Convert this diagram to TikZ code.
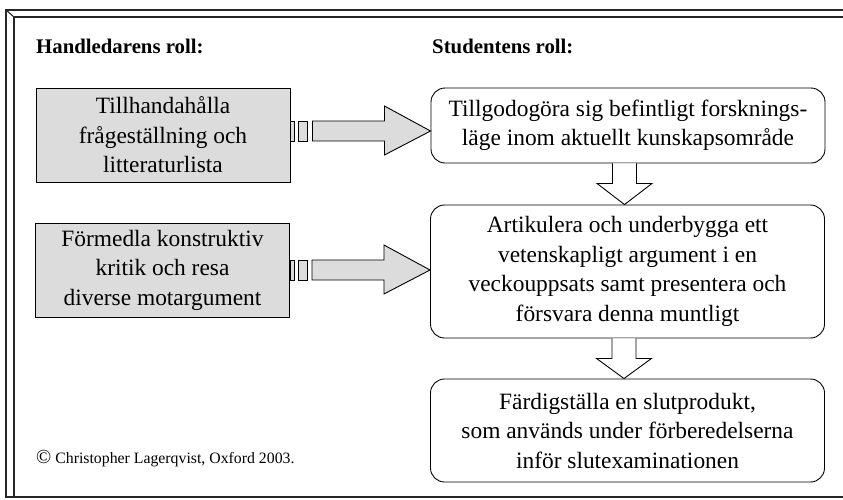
\documentclass[tikz,border=0pt]{standalone}
\usepackage{fontspec}
\setmainfont{Liberation Serif}
\usetikzlibrary{calc}
\definecolor{boxgray}{RGB}{220,220,220}
\begin{document}
\begin{tikzpicture}[x=1pt,y=-1pt,
 txt/.style={font=\fontsize{23.4}{29.5}\selectfont, align=center, inner sep=0pt},
 graybox/.style={txt, draw, line width=0.9pt, fill=boxgray, minimum width=254pt, minimum height=94pt},
 rbox/.style={txt, draw, line width=0.9pt, rounded corners=14pt, minimum width=394pt},
 blk/.style={draw, line width=0.9pt, fill=boxgray, line join=miter},
 wblk/.style={draw, line width=0.9pt, fill=white, line join=miter},
 frameline/.style={line width=1.1pt, draw=black!85},
 head/.style={anchor=west, inner sep=0pt, font=\bfseries\fontsize{20.8}{24}\selectfont}]
\useasboundingbox (0,0) rectangle (843,499);
% frame
\draw[frameline] (843,10) -- (6,10) -- (6,497) -- (843,497);
\draw[frameline] (843,17) -- (14,17) -- (14,497);
\draw[frameline] (6,10) -- (14,17);
% headings
\node[head] (h1) at (36,46) {Handledarens roll:};
\node[head] (h2) at (432,46) {Studentens roll:};
% boxes
\node[graybox] (g1) at (163,135) {Tillhandahålla\\frågeställning och\\litteraturlista};
\node[graybox] (g2) at (162.5,270) {Förmedla konstruktiv\\kritik och resa\\diverse motargument};
\node[rbox, minimum height=75pt] (r1) at (628,125.5) {Tillgodogöra sig befintligt forsknings-\\läge inom aktuellt kunskapsområde};
\node[rbox, minimum height=133pt] (r2) at (627.5,271.5) {Artikulera och underbygga ett\\vetenskapligt argument i en\\veckouppsats samt presentera och\\försvara denna muntligt};
\node[rbox, minimum height=103pt] (r3) at (627.5,430.5) {Färdigställa en slutprodukt,\\som används under förberedelserna\\inför slutexaminationen};
% copyright
\node[anchor=west, inner sep=0pt, font=\fontsize{15.8}{20}\selectfont] (cp) at (36,459) {{\fontsize{20}{20}\selectfont ©} Christopher Lagerqvist, Oxford 2003.};
% striped right arrows
\foreach \g/\r/\dy in {g1/r1/-4, g2/r2/0} {
  \coordinate (s) at ($(\g.east)+(0,\dy)$);
  \coordinate (t) at (\r.west |- s);
  \draw[blk] ($(s)+(0,-10)$) rectangle ($(s)+(4,10)$);
  \draw[blk] ($(s)+(8,-10)$) rectangle ($(s)+(17,10)$);
  \draw[blk] ($(s)+(22,-10)$) -- ($(s)+(94,-10)$) -- ($(s)+(94,-25)$) -- (t)
     -- ($(s)+(94,24)$) -- ($(s)+(94,10)$) -- ($(s)+(22,10)$) -- cycle;
}
% down arrows
\foreach \a/\b in {r1/r2, r2/r3} {
  \coordinate (u) at ($(\a.south)+(-3.5,0)$);
  \coordinate (v) at (u |- \b.north);
  \draw[wblk] ($(u)+(-12,0)$) -- ($(u)+(-12,20)$) -- ($(u)+(-27.5,20)$) -- (v)
     -- ($(u)+(27.5,20)$) -- ($(u)+(12,20)$) -- ($(u)+(12,0)$);
}
\end{tikzpicture}
\end{document}
